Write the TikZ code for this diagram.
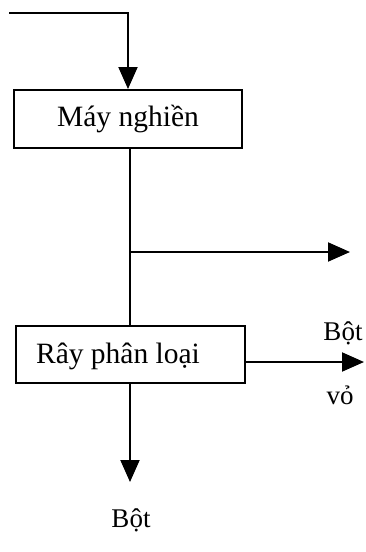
\documentclass[tikz,border=0pt]{standalone}
\usepackage{fontspec}
\setmainfont{Liberation Serif}
\usetikzlibrary{arrows.meta}
\begin{document}
\begin{tikzpicture}[x=1pt,y=-1pt,
  line width=2pt,
  box/.style={draw, rectangle, inner sep=0pt, line width=2pt},
  lbl/.style={inner sep=0pt, font=\fontsize{29.5}{33}\selectfont},
  slbl/.style={inner sep=0pt, font=\fontsize{27}{31}\selectfont},
  arr/.style={-{Triangle[length=22pt,width=19pt]}}]
\useasboundingbox (0,0) rectangle (365,552);
\node[box, minimum width=228pt, minimum height=58pt] (b1) at (128,119) {};
\node[lbl] (t1) at (128,119) {Máy nghiền};
\node[box, minimum width=229pt, minimum height=57pt] (b2) at (130.5,354.5) {};
\node[lbl] (t2) at (118,356) {Rây phân loại};
\coordinate (in) at (9,13);
\coordinate (br) at (130,252);
\coordinate (out1) at (350,252);
\coordinate (out2) at (364,362);
\coordinate (out3) at (130,482);
\node[slbl] (l1) at (343,333) {Bột};
\node[slbl] (l2) at (340,395) {vỏ};
\node[slbl] (l3) at (131,520) {Bột};
\draw[arr] (in) -| (b1.north);
\draw (b1.south -| br) -- (b2.north -| br);
\draw[arr] (br) -- (out1);
\draw[arr] (b2.east |- out2) -- (out2);
\draw[arr] (b2.south -| out3) -- (out3);
\end{tikzpicture}
\end{document}
